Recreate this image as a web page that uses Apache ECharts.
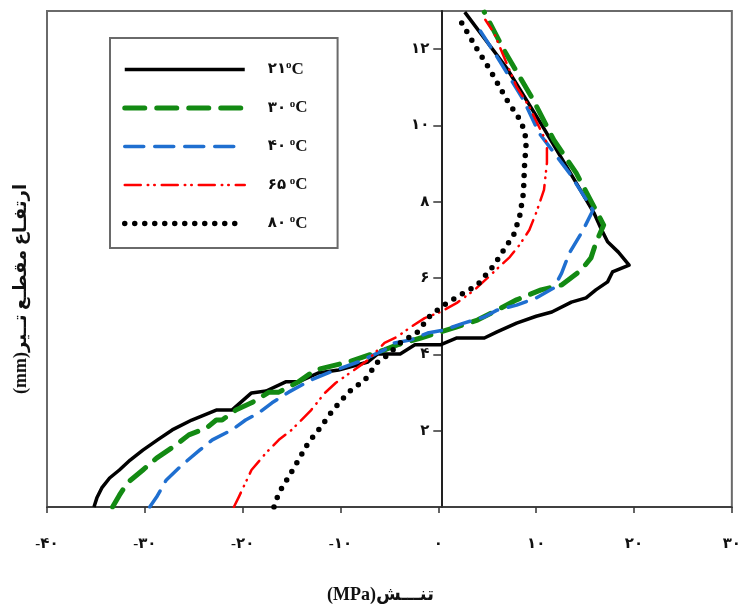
<!DOCTYPE html>
<html><head><meta charset="utf-8">
<script src="https://cdn.jsdelivr.net/npm/echarts@6/dist/echarts.min.js"></script>
<style>html,body{margin:0;padding:0;background:#fff}#c{width:744px;height:614px}</style>
</head><body><div id="c"></div>
<script>
// Categories / series names (temperatures)
const seriesNames = ['۲۱', '۳۰ ', '۴۰ ', '۶۵ ', '۸۰ '];
// Tick labels
const xTickValues = [-40, -30, -20, -10, 0, 10, 20, 30];
const xTickLabels = ['-۴۰', '-۳۰', '-۲۰', '-۱۰', '۰', '۱۰', '۲۰', '۳۰'];
const yTickValues = [2, 4, 6, 8, 10, 12];
const yTickLabels = ['۲', '۴', '۶', '۸', '۱۰', '۱۲'];
// Series values: [stress (MPa), height (mm)]
const s21 = [[-35.2,0],[-34.9,0.24],[-34.4,0.5],[-33.6,0.76],[-32.6,0.97],[-31.5,1.23],[-30.2,1.49],[-28.7,1.76],[-27.2,2.02],[-25.2,2.28],[-22.7,2.54],[-21.1,2.54],[-19.1,2.99],[-17.6,3.04],[-15.6,3.28],[-14.3,3.28],[-12.3,3.51],[-10.2,3.59],[-7.2,3.8],[-6.2,4.01],[-3.9,4.01],[-2.4,4.25],[0.2,4.25],[1.9,4.43],[4.7,4.43],[6.0,4.59],[8.0,4.82],[10.0,5.0],[11.6,5.11],[13.6,5.37],[15.1,5.48],[16.1,5.69],[17.3,5.9],[17.8,6.16],[19.5,6.34],[18.4,6.68],[17.3,6.95],[16.6,7.31],[15.9,7.71],[13.5,8.75],[10.6,10.0],[7.0,11.5],[2.7,12.97]];
const s30 = [[-33.3,0],[-32.6,0.31],[-31.8,0.63],[-30.2,0.97],[-28.8,1.28],[-26.8,1.63],[-25.5,1.89],[-23.7,2.07],[-22.7,2.28],[-22.1,2.28],[-20.7,2.54],[-19.1,2.73],[-17.3,3.01],[-16.3,3.01],[-14.3,3.28],[-12.6,3.59],[-9.2,3.8],[-5.5,4.12],[-4.2,4.25],[-1.8,4.43],[-0.1,4.56],[1.9,4.72],[4.0,4.9],[6.0,5.16],[8.0,5.43],[10.5,5.69],[12.6,5.82],[14.6,6.21],[15.6,6.53],[16.1,6.92],[16.9,7.39],[14.1,8.75],[11.8,9.62],[9.7,10.67],[6.7,11.98],[4.7,12.97]];
const s40 = [[-29.5,0],[-28.8,0.26],[-27.8,0.71],[-26.2,1.1],[-24.4,1.49],[-23.1,1.76],[-21.1,2.02],[-19.7,2.28],[-18.4,2.46],[-17.0,2.73],[-15.3,3.01],[-13.0,3.33],[-11.0,3.54],[-8.2,3.8],[-5.5,4.12],[-4.5,4.3],[-2.8,4.38],[-1.1,4.56],[0.6,4.64],[2.6,4.82],[4.7,4.98],[6.0,5.16],[8.0,5.29],[10.0,5.48],[11.8,5.74],[12.6,6.13],[13.4,6.66],[14.8,7.26],[15.8,7.78],[13.4,8.75],[10.3,9.8],[8.7,10.67],[6.0,11.8],[3.7,12.71]];
const s65 = [[-20.9,0],[-20.4,0.26],[-19.1,0.97],[-17.6,1.42],[-16.3,1.76],[-15.0,2.02],[-14.0,2.28],[-13.0,2.54],[-11.6,2.99],[-10.5,3.25],[-8.9,3.54],[-7.2,3.85],[-5.5,4.3],[-4.2,4.46],[-2.8,4.72],[-1.4,4.95],[0.2,5.11],[1.9,5.35],[3.7,5.69],[5.0,6.0],[7.3,6.55],[8.3,6.87],[9.3,7.26],[10.0,7.71],[10.8,8.31],[11.1,9.02],[11.1,9.54],[10.3,9.96],[9.3,10.49],[8.0,11.01],[6.7,11.8],[5.7,12.42],[4.8,12.77]];
const s80 = [[-16.8,0],[-16.3,0.37],[-15.3,0.79],[-14.3,1.23],[-13.3,1.68],[-12.0,2.1],[-11.0,2.46],[-9.9,2.8],[-8.9,3.07],[-7.5,3.33],[-6.2,3.8],[-5.2,3.98],[-3.9,4.3],[-2.1,4.59],[-0.8,5.03],[0.9,5.35],[2.6,5.61],[4.0,5.82],[5.7,6.34],[6.7,6.74],[7.7,7.13],[8.3,7.6],[8.7,8.23],[8.8,8.91],[9.0,9.62],[8.5,10.09],[7.0,10.67],[5.3,11.45],[4.0,11.98],[2.2,12.77]];

const FONT = "'Liberation Serif', 'DejaVu Sans', serif";
const chart = echarts.init(document.getElementById('c'), null, {renderer: 'canvas'});

function xLabel(v) { const i = xTickValues.indexOf(v); return i >= 0 ? xTickLabels[i] : ''; }
function yLabel(v) { const i = yTickValues.indexOf(v); return i >= 0 ? yTickLabels[i] : ''; }

const styles = [
  {color: '#000000', width: 3.5, type: 'solid', cap: 'butt'},
  {color: '#138a13', width: 5, type: [20, 12], cap: 'round'},
  {color: '#1f6fd0', width: 3.5, type: [19, 11], cap: 'round'},
  {color: '#ff0000', width: 2.5, type: [16, 7, 0.5, 6, 0.5, 7], cap: 'round'},
  {color: '#000000', width: 5.5, type: [0, 10], cap: 'round'}
];
const dataSets = [s21, s30, s40, s65, s80];

const GRID_L = 47, GRID_R = 7, W = 744;
const XMIN = -40, XMAX = 30;
// y axis sits at stress = 0: shift it inward from the grid's left edge
const yAxisOffset = -((0 - XMIN) / (XMAX - XMIN)) * (W - GRID_L - GRID_R);

const option = {
  backgroundColor: '#ffffff',
  animation: false,
  grid: {left: GRID_L, right: GRID_R, top: 11, bottom: 107, show: true, borderColor: '#6a6a6a', borderWidth: 2, backgroundColor: 'transparent'},
  xAxis: {
    type: 'value', min: XMIN, max: XMAX, interval: 10,
    axisLine: {show: true, onZero: false, lineStyle: {color: '#333', width: 1.5}},
    axisTick: {show: true, inside: false, length: 6, lineStyle: {color: '#333', width: 1.5}},
    axisLabel: {margin: 30, formatter: xLabel, fontFamily: FONT, fontWeight: 'bold', fontSize: 15, color: '#111'},
    splitLine: {show: false}
  },
  yAxis: {
    type: 'value', min: 0, max: 13, interval: 2, position: 'left', offset: yAxisOffset,
    axisLine: {show: true, onZero: false, lineStyle: {color: '#222', width: 2}},
    axisTick: {show: true, inside: false, length: 8, lineStyle: {color: '#333', width: 1.5}},
    axisLabel: {margin: 12, formatter: yLabel, showMinLabel: false, showMaxLabel: false, fontFamily: FONT, fontWeight: 'bold', fontSize: 15, color: '#111'},
    splitLine: {show: false}
  },
  legend: {
    orient: 'vertical', left: 110, top: 38,
    padding: [22, 30, 16, 12], itemWidth: 120, itemHeight: 14, itemGap: 20.5,
    borderColor: '#6a6a6a', borderWidth: 2, backgroundColor: '#fff',
    itemStyle: {opacity: 0},
    lineStyle: {width: 'inherit', opacity: 1},
    data: seriesNames,
    formatter: function (name) { return '{n|' + name + '}{o|o}{c|C}'; },
    textStyle: {
      padding: [0, 0, 0, 18],
      rich: {
        n: {fontFamily: FONT, fontWeight: 'bold', fontSize: 15, color: '#111'},
        o: {fontFamily: FONT, fontWeight: 'bold', fontSize: 11, color: '#111', verticalAlign: 'top', padding: [0, 0, 8, 0]},
        c: {fontFamily: FONT, fontWeight: 'bold', fontSize: 17, color: '#111'}
      }
    }
  },
  graphic: [
    {type: 'text', left: 327, top: 586, style: {text: '(MPa)تنـــش', font: "bold 18px 'Liberation Serif', 'DejaVu Sans', serif", fill: '#111'}},
    {type: 'text', x: 12, y: 394, rotation: Math.PI / 2, style: {text: '(mm)ارتفـاع مقطـع تــیر', font: "bold 18px 'Liberation Serif', 'DejaVu Sans', serif", fill: '#111'}}
  ],
  series: dataSets.map(function (d, i) {
    return {
      name: seriesNames[i], type: 'line', data: d, symbol: 'none', smooth: false,
      lineStyle: {color: styles[i].color, width: styles[i].width, type: styles[i].type, cap: styles[i].cap, join: 'round'},
      itemStyle: {color: styles[i].color},
      z: 3 + i
    };
  })
};
chart.setOption(option);
</script>
</body></html>
